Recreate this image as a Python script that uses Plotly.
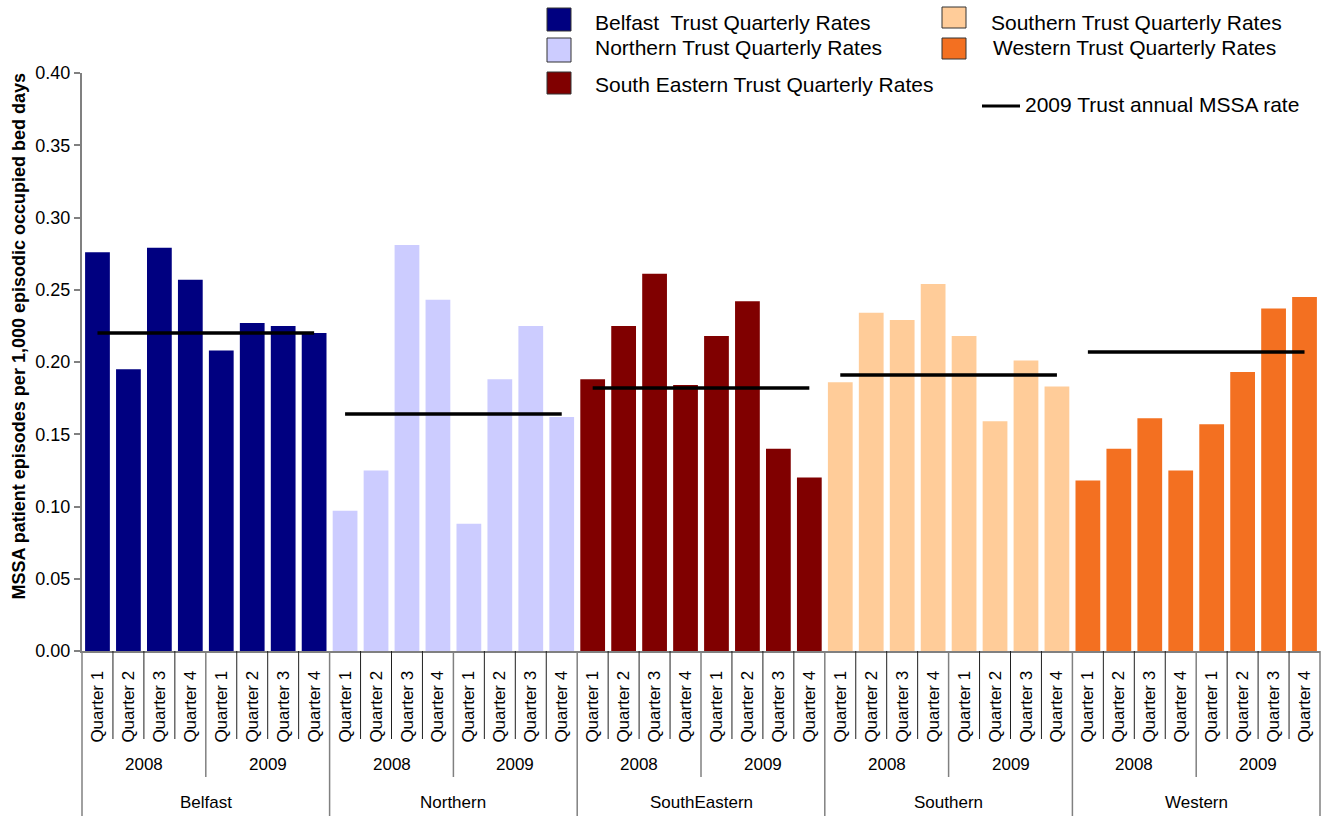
import plotly.graph_objects as go

# ---------------- data ----------------
trusts = ["Belfast", "Northern", "SouthEastern", "Southern", "Western"]
years = ["2008", "2009"]
quarters = ["Quarter 1", "Quarter 2", "Quarter 3", "Quarter 4"]

belfast = [0.276, 0.195, 0.279, 0.257, 0.208, 0.227, 0.225, 0.220]
northern = [0.097, 0.125, 0.281, 0.243, 0.088, 0.188, 0.225, 0.162]
south_eastern = [0.188, 0.225, 0.261, 0.184, 0.218, 0.242, 0.140, 0.120]
southern = [0.186, 0.234, 0.229, 0.254, 0.218, 0.159, 0.201, 0.183]
western = [0.118, 0.140, 0.161, 0.125, 0.157, 0.193, 0.237, 0.245]
annual_2009 = [0.220, 0.164, 0.182, 0.191, 0.207]

legend_names = [
    "Belfast\u00a0 Trust Quarterly Rates",
    "Northern Trust Quarterly Rates",
    "South Eastern Trust Quarterly Rates",
    "Southern Trust Quarterly Rates",
    "Western Trust Quarterly Rates",
]
line_name = "2009 Trust annual MSSA rate"
y_title = "MSSA patient episodes per 1,000 episodic occupied bed days"

colors = ["#000080", "#CCCCFF", "#800000", "#FFCC99", "#F37021"]
series = [belfast, northern, south_eastern, southern, western]

# ---------------- layout geometry ----------------
W, H = 1331, 816
ML, MR, MT, MB = 82, 11, 73, 165
PW = W - ML - MR
PH = H - MT - MB
FONT = "Liberation Sans, Arial, sans-serif"

def px2x(px):
    return (px - ML) / PW

def py2y(py):
    return (H - MB - py) / PH

nq = len(quarters)
ny = len(years)
per_trust = nq * ny
n_total = per_trust * len(trusts)

fig = go.Figure()

for t, (vals, col) in enumerate(zip(series, colors)):
    xs = [t * per_trust + i for i in range(per_trust)]
    fig.add_trace(go.Bar(x=xs, y=vals, marker=dict(color=col, line=dict(width=0)),
                         width=0.8, showlegend=False, hoverinfo="y"))

for t, rate in enumerate(annual_2009):
    x0 = t * per_trust
    fig.add_trace(go.Scatter(x=[x0, x0 + per_trust - 1], y=[rate, rate], mode="lines",
                             line=dict(color="black", width=3.5), showlegend=False,
                             hoverinfo="y"))

tickvals = list(range(n_total))
ticktext = [quarters[i % nq] for i in range(n_total)]

shapes = []
annotations = []

# separators below the axis
for b in range(n_total + 1):
    xp = b / n_total
    if b % per_trust == 0:
        y1 = py2y(H + 2)
        col = "#808080"
        w = 1.5
    elif b % nq == 0:
        y1 = py2y(777)
        col = "#808080"
        w = 1.5
    else:
        y1 = py2y(739)
        col = "#202020"
        w = 1
    shapes.append(dict(type="line", xref="paper", yref="paper", x0=xp, x1=xp,
                       y0=0, y1=y1, line=dict(color=col, width=w)))

# year and trust labels
for t, name in enumerate(trusts):
    for yi, yr in enumerate(years):
        xc = t * per_trust + yi * nq + (nq - 1) / 2
        annotations.append(dict(x=xc, y=py2y(764), xref="x", yref="paper", text=yr,
                                showarrow=False, xanchor="center", yanchor="middle",
                                font=dict(family=FONT, size=17, color="black")))
    xc = t * per_trust + (per_trust - 1) / 2
    annotations.append(dict(x=xc, y=py2y(802), xref="x", yref="paper", text=name,
                            showarrow=False, xanchor="center", yanchor="middle",
                            font=dict(family=FONT, size=17, color="black")))

# y axis title
annotations.append(dict(x=px2x(18), y=py2y(336.5), xref="paper", yref="paper",
                        text="<b>" + y_title + "</b>", textangle=-90, showarrow=False,
                        xanchor="center", yanchor="middle",
                        font=dict(family=FONT, size=18, color="black")))

# custom legend
sq = [
    (547, 571, 8, 31),
    (547, 571, 38, 62),
    (547, 571, 72, 94),
    (942, 966, 7, 28),
    (942, 966, 38, 59),
]
txt = [(593, 22), (593, 48), (593, 85), (989, 22), (991, 48)]
for (x0, x1, y0, y1), (tx, ty), col, name in zip(sq, txt, colors, legend_names):
    shapes.append(dict(type="rect", xref="paper", yref="paper",
                       x0=px2x(x0), x1=px2x(x1), y0=py2y(y1), y1=py2y(y0),
                       fillcolor=col, line=dict(color="#333333", width=1)))
    annotations.append(dict(x=px2x(tx), y=py2y(ty), xref="paper", yref="paper",
                            text=name, showarrow=False, xanchor="left", yanchor="middle",
                            font=dict(family=FONT, size=21, color="black")))
shapes.append(dict(type="line", xref="paper", yref="paper",
                   x0=px2x(982), x1=px2x(1020), y0=py2y(106), y1=py2y(106),
                   line=dict(color="black", width=3)))
annotations.append(dict(x=px2x(1023), y=py2y(105), xref="paper", yref="paper",
                        text=line_name, showarrow=False, xanchor="left", yanchor="middle",
                        font=dict(family=FONT, size=21, color="black")))

fig.update_layout(
    width=W, height=H,
    margin=dict(l=ML, r=MR, t=MT, b=MB, pad=0),
    paper_bgcolor="white", plot_bgcolor="white",
    bargap=0.2,
    showlegend=False,
    shapes=shapes,
    annotations=annotations,
    font=dict(family=FONT, color="black"),
    xaxis=dict(range=[-0.5, n_total - 0.5], tickmode="array", tickvals=tickvals,
               ticktext=ticktext, tickangle=-90, showgrid=False, zeroline=False,
               showline=True, linecolor="#808080", linewidth=2,
               ticks="outside", ticklen=11, tickcolor="rgba(0,0,0,0)",
               tickfont=dict(family=FONT, size=17, color="black"), fixedrange=True),
    yaxis=dict(range=[0, 0.4], dtick=0.05, tick0=0, tickformat=".2f", showgrid=False,
               zeroline=False, showline=True, linecolor="#808080", linewidth=2,
               ticks="outside", ticklen=6, tickcolor="#808080", tickwidth=1.5,
               tickfont=dict(family=FONT, size=18, color="black"), fixedrange=True),
)

fig.write_html(
    "out.html",
    config={"displayModeBar": False},
    post_script="document.body.style.margin='0';document.body.style.overflow='hidden';",
)
